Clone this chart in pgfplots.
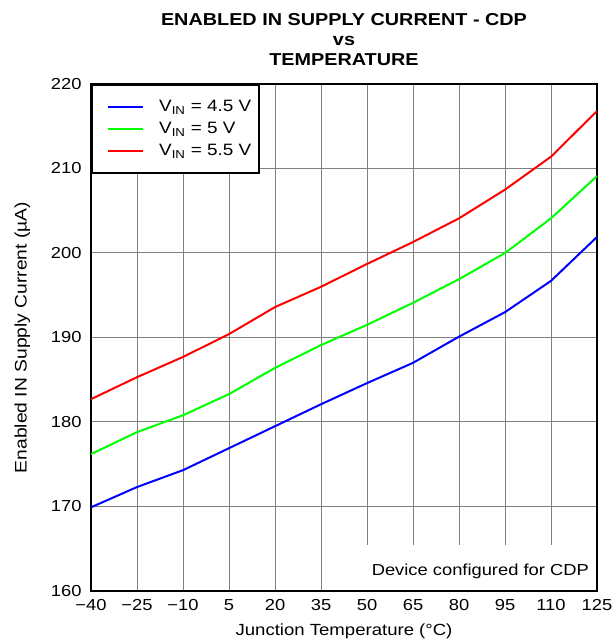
\documentclass[border=0pt]{standalone}
\usepackage{fontspec}
\setmainfont{Liberation Sans}[FakeStretch=1.15]
\usepackage{pgfplots}
\pgfplotsset{compat=1.18}
\begin{document}
\fontsize{16}{19}\selectfont
\begin{tikzpicture}
\begin{axis}[
  scale only axis,
  width=506bp, height=507bp,
  xmin=-40, xmax=125, ymin=160, ymax=220,
  xtick={-40,-25,...,125},
  ytick={160,170,...,220},
  /pgf/number format/assume math mode=true,
  xticklabels={−40,−25,−10,5,20,35,50,65,80,95,110,125},
  tick style={draw=none},
  grid=major,
  major grid style={draw=black!50, line width=1pt},
  axis line style={line width=2.2pt},
  tick label style={font=\fontsize{16}{19}\selectfont},
  xticklabel style={yshift=-3pt},
  yticklabel style={xshift=-4pt},
  xlabel={Junction Temperature (°C)},
  ylabel={Enabled IN Supply Current (µA)},
  xlabel style={font=\fontsize{16.2}{19}\selectfont, yshift=-2pt},
  ylabel style={font=\fontsize{16.8}{19}\selectfont, yshift=10pt},
  title={ENABLED IN SUPPLY CURRENT - CDP\\vs\\TEMPERATURE},
  title style={align=center, font=\bfseries\fontsize{17.3}{20}\selectfont, yshift=7pt},
  legend style={at={(rel axis cs:0,1)}, anchor=north west, xshift=0.5bp, yshift=-0.5bp,
    draw=black, line width=1.5pt, font=\fontsize{16.5}{22}\selectfont,
    inner xsep=6pt, inner ysep=13pt, row sep=4.5pt,
    /tikz/every odd column/.append style={column sep=13pt}},
  legend cell align=left,
  legend image code/.code={\path (0bp,0bp); \draw[#1, line width=2pt] (9bp,0bp) -- (44bp,0bp);},
]
\coordinate (ll) at (rel axis cs:0,0);
\coordinate (ur) at (rel axis cs:1,1);
\addplot[blue, line width=2pt] coordinates {
(-40,169.9) (-25,172.3) (-10,174.3) (5,176.9) (20,179.5) (35,182.1) (50,184.6) (65,187.0) (80,190.1) (95,193.0) (110,196.7) (125,201.9)};
\addlegendentry{V\textsubscript{IN} = 4.5 V}
\addplot[green, line width=2pt] coordinates {
(-40,176.2) (-25,178.8) (-10,180.8) (5,183.3) (20,186.4) (35,189.1) (50,191.5) (65,194.1) (80,196.9) (95,200.0) (110,204.1) (125,209.1)};
\addlegendentry{V\textsubscript{IN} = 5 V}
\addplot[red, line width=2pt] coordinates {
(-40,182.7) (-25,185.3) (-10,187.7) (5,190.4) (20,193.6) (35,196.0) (50,198.7) (65,201.3) (80,204.1) (95,207.5) (110,211.4) (125,216.8)};
\addlegendentry{V\textsubscript{IN} = 5.5 V}
\node[anchor=south east, fill=white, inner sep=0pt, minimum width=244bp, minimum height=45bp]
  at ([xshift=-1.3bp,yshift=1.2bp]rel axis cs:1,0) {};
\node[anchor=base east, inner sep=0pt, font=\fontsize{16}{19}\selectfont]
  at ([xshift=-8bp,yshift=15bp]rel axis cs:1,0) {Device configured for CDP};
\end{axis}
\pgfresetboundingbox
\useasboundingbox ([shift={(-91bp,-53bp)}]ll) rectangle ([shift={(18bp,84bp)}]ur);
\end{tikzpicture}
\end{document}
